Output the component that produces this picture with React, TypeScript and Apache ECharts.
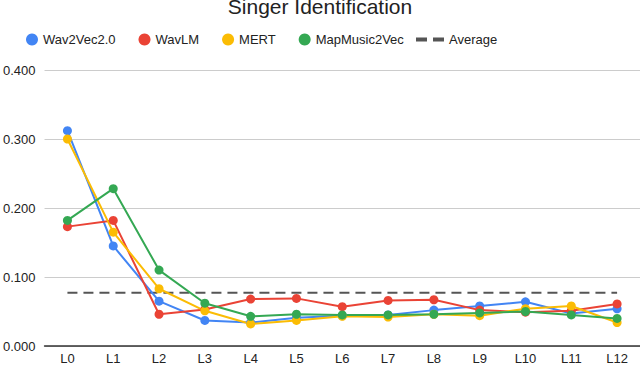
import React, { useEffect, useRef } from "react";
import * as echarts from "echarts";

const categories = ["L0", "L1", "L2", "L3", "L4", "L5", "L6", "L7", "L8", "L9", "L10", "L11", "L12"];
const wav2vec = [0.312, 0.145, 0.065, 0.037, 0.034, 0.041, 0.044, 0.045, 0.052, 0.058, 0.064, 0.047, 0.054];
const wavlm = [0.173, 0.182, 0.046, 0.053, 0.068, 0.069, 0.057, 0.066, 0.067, 0.052, 0.049, 0.051, 0.061];
const mert = [0.300, 0.165, 0.083, 0.051, 0.032, 0.037, 0.043, 0.042, 0.046, 0.044, 0.054, 0.058, 0.034];
const mapmusic = [0.182, 0.228, 0.110, 0.062, 0.043, 0.046, 0.045, 0.045, 0.046, 0.048, 0.050, 0.045, 0.040];
const averageValue = 0.077;
const average = categories.map(() => averageValue);
const yTicks = [0, 0.1, 0.2, 0.3, 0.4];

const FONT = "Arial, 'Liberation Sans', sans-serif";

export default function App() {
  const ref = useRef<HTMLDivElement>(null);
  useEffect(() => {
    if (!ref.current) return;
    const chart = echarts.init(ref.current, undefined, { renderer: "svg" });
    const mk = (name: string, data: number[], color: string) => ({
      name,
      type: "line",
      data,
      symbol: "circle",
      symbolSize: 9,
      showSymbol: true,
      itemStyle: { color },
      lineStyle: { color, width: 2 },
    });
    chart.setOption({
      animation: false,
      textStyle: { fontFamily: FONT },
      title: {
        text: "Singer Identification",
        left: "center",
        top: -9,
        textStyle: { fontSize: 21, fontWeight: "normal", color: "#222", fontFamily: FONT },
      },
      legend: [
        {
          data: ["Wav2Vec2.0", "WavLM", "MERT", "MapMusic2Vec"],
          left: 21,
          top: 28,
          icon: "circle",
          itemWidth: 12,
          itemHeight: 12,
          itemGap: 23,
          textStyle: { fontSize: 13, color: "#222", fontFamily: FONT },
        },
        {
          data: [
            {
              name: "Average",
              icon: "path://M0,0H11V4H0Z M17,0H28V4H17Z",
              itemStyle: { color: "#555" },
            },
          ],
          left: 411,
          top: 28,
          itemWidth: 28,
          itemHeight: 4,
          textStyle: { fontSize: 13, color: "#222", fontFamily: FONT },
        },
      ],
      grid: { left: 42, right: 0, top: 70, bottom: 19, containLabel: false },
      xAxis: {
        type: "category",
        data: categories,
        boundaryGap: true,
        axisLine: { lineStyle: { color: "#333", width: 1.5 } },
        axisTick: { show: false },
        axisLabel: { fontSize: 13, color: "#222", margin: 6, fontFamily: FONT },
      },
      yAxis: {
        type: "value",
        min: yTicks[0],
        max: yTicks[yTicks.length - 1],
        interval: 0.1,
        axisLine: { show: false },
        axisTick: { show: false },
        splitLine: { lineStyle: { color: "#ccc", width: 1 } },
        axisLabel: {
          fontSize: 13,
          color: "#222",
          margin: 9,
          fontFamily: FONT,
          formatter: (v: number) => v.toFixed(3),
        },
      },
      series: [
        {
          name: "Average",
          type: "line",
          data: average,
          symbol: "none",
          itemStyle: { color: "#555" },
          lineStyle: { color: "#555", width: 2, type: [10, 6] },
          z: 1,
        },
        mk("Wav2Vec2.0", wav2vec, "#4285F4"),
        mk("WavLM", wavlm, "#EA4335"),
        mk("MERT", mert, "#FBBC04"),
        mk("MapMusic2Vec", mapmusic, "#34A853"),
      ],
    });
    return () => chart.dispose();
  }, []);
  return <div ref={ref} style={{ width: 640, height: 365, position: "absolute", left: 0, top: 0 }} />;
}
